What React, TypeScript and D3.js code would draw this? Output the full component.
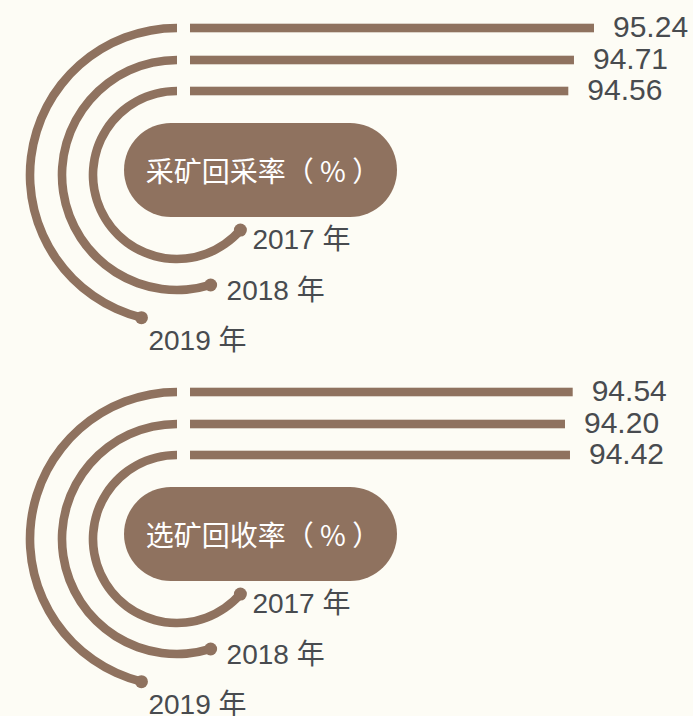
import React, { useEffect, useRef } from 'react'
import * as d3 from 'd3'

// data
const years = ['2017 年', '2018 年', '2019 年']
const miningRate = [94.56, 94.71, 95.24]
const dressingRate = [94.42, 94.2, 94.54]
const titles = ['采矿回采率（ % ）', '选矿回收率（ % ）']

const W = 693
const H = 716
const brown = '#8f725f'
const textColor = '#484b4f'
const bg = '#fdfcf5'
const numFont = '"Liberation Sans", Arial, "Noto Sans CJK SC", sans-serif'
const cjkFont = '"Noto Sans CJK SC", "Noto Sans", sans-serif'

// ring layout, from inner (2017) to outer (2019)
const radii = [84, 115, 147]
const sweeps = [229, 197, 166] // degrees, counter-clockwise from 12 o'clock
const yearOffsets = [[12, 19], [16, 15], [7, 32]]
const thick = 8.6
const cx = 177
const barStart = 190

const panels = [
  { title: titles[0], values: miningRate, cy: 175, lo: 84.55, end: 594 },
  { title: titles[1], values: dressingRate, cy: 539, lo: 77.64, end: 572.7 },
]

export default function App() {
  const ref = useRef<SVGSVGElement>(null)

  useEffect(() => {
    const svg = d3.select(ref.current)
    svg.selectAll('*').remove()

    svg.append('rect')
      .attr('width', W)
      .attr('height', H)
      .attr('fill', bg)

    const arc = d3.arc<any>()
    const fmt = d3.format('.2f')

    panels.forEach(p => {
      const x = d3.scaleLinear()
        .domain([p.lo, d3.max(p.values) as number])
        .range([barStart, p.end])

      const g = svg.append('g')

      // rings
      g.selectAll('.ring')
        .data(p.values)
        .enter()
        .append('path')
        .attr('class', 'ring')
        .attr('transform', `translate(${cx},${p.cy})`)
        .attr('fill', brown)
        .attr('d', (d, i) => arc({
          innerRadius: radii[i] - thick / 2,
          outerRadius: radii[i] + thick / 2,
          startAngle: -sweeps[i] * Math.PI / 180,
          endAngle: 0,
        }))

      // dots at ring ends
      const dotPos = (i: number) => {
        const a = -sweeps[i] * Math.PI / 180
        return [cx + radii[i] * Math.sin(a), p.cy - radii[i] * Math.cos(a)]
      }
      g.selectAll('.dot')
        .data(p.values)
        .enter()
        .append('circle')
        .attr('class', 'dot')
        .attr('cx', (d, i) => dotPos(i)[0])
        .attr('cy', (d, i) => dotPos(i)[1])
        .attr('r', 6.5)
        .attr('fill', brown)

      // year labels
      g.selectAll('.year')
        .data(years)
        .enter()
        .append('text')
        .attr('class', 'year')
        .attr('x', (d, i) => dotPos(i)[0] + yearOffsets[i][0])
        .attr('y', (d, i) => dotPos(i)[1] + yearOffsets[i][1])
        .attr('fill', textColor)
        .style('font-family', numFont)
        .style('font-size', '28px')
        .text(d => d)

      // bars
      g.selectAll('.bar')
        .data(p.values)
        .enter()
        .append('rect')
        .attr('class', 'bar')
        .attr('x', barStart)
        .attr('y', (d, i) => p.cy - radii[i] - thick / 2)
        .attr('width', d => x(d) - barStart)
        .attr('height', thick)
        .attr('fill', brown)

      // values
      g.selectAll('.val')
        .data(p.values)
        .enter()
        .append('text')
        .attr('class', 'val')
        .attr('x', d => x(d) + 19)
        .attr('y', (d, i) => p.cy - radii[i] + 8.5)
        .attr('fill', textColor)
        .style('font-family', numFont)
        .style('font-size', '30px')
        .text(d => fmt(d))

      // title pill
      g.append('rect')
        .attr('x', 124)
        .attr('y', p.cy - 52)
        .attr('width', 273)
        .attr('height', 94)
        .attr('rx', 47)
        .attr('fill', brown)

      g.append('text')
        .attr('x', 263)
        .attr('y', p.cy - 5)
        .attr('text-anchor', 'middle')
        .attr('dominant-baseline', 'central')
        .attr('fill', '#ffffff')
        .style('font-family', cjkFont)
        .style('font-size', '28px')
        .text(p.title)
    })
  }, [])

  return (
    <svg
      ref={ref}
      width={W}
      height={H}
      style={{ position: 'absolute', left: 0, top: 0, display: 'block' }}
    />
  )
}
